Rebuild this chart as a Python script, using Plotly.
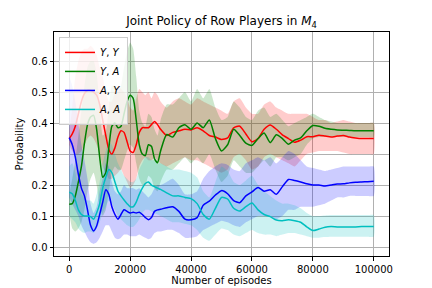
import plotly.graph_objects as go

episodes = [0, 1000, 2000, 3000, 4000, 5000, 6000, 7000, 8000, 9000,
            10000, 11000, 12000, 13000, 14000, 15000, 16000, 17000, 18000, 19000,
            20000, 21000, 22000, 23000, 24000, 25000, 26000, 27000, 28000, 29000,
            30000, 32000, 34000, 36000, 38000, 40000, 42000, 44000, 46000, 48000,
            50000, 52000, 54000, 56000, 58000, 60000, 62000, 64000, 66000, 68000,
            70000, 72000, 74000, 76000, 78000, 80000, 82000, 84000, 86000, 88000,
            90000, 92000, 94000, 96000, 98000, 100000]

# Y,Y (red)
yy_mean = [0.35, 0.365, 0.39, 0.43, 0.47, 0.495, 0.505, 0.505, 0.50, 0.49, 0.46, 0.41, 0.36, 0.315, 0.30, 0.32,
           0.355, 0.375, 0.37, 0.34, 0.31, 0.305, 0.33, 0.37, 0.385, 0.385, 0.385, 0.395, 0.405, 0.395, 0.38,
           0.36, 0.37, 0.375, 0.38, 0.378, 0.385, 0.375, 0.36, 0.355, 0.347, 0.352, 0.385, 0.39, 0.365, 0.34,
           0.35, 0.38, 0.394, 0.38, 0.362, 0.35, 0.338, 0.345, 0.356, 0.356, 0.361, 0.358, 0.355, 0.358, 0.36,
           0.355, 0.352, 0.35, 0.35, 0.35]
yy_lo = [0.33, 0.31, 0.30, 0.30, 0.31, 0.33, 0.35, 0.36, 0.35, 0.33, 0.30, 0.26, 0.24, 0.22, 0.22, 0.23, 0.24,
         0.25, 0.23, 0.21, 0.19, 0.20, 0.22, 0.26, 0.28, 0.29, 0.28, 0.28, 0.29, 0.28, 0.27,
         0.26, 0.27, 0.28, 0.29, 0.28, 0.28, 0.27, 0.26, 0.25, 0.24, 0.25, 0.29, 0.30, 0.28, 0.25, 0.26, 0.29,
         0.30, 0.29, 0.28, 0.27, 0.26, 0.28, 0.30, 0.305, 0.31, 0.31, 0.31, 0.31, 0.305, 0.30, 0.30, 0.30,
         0.30, 0.30]
yy_hi = [0.37, 0.45, 0.55, 0.60, 0.63, 0.64, 0.64, 0.65, 0.64, 0.62, 0.58, 0.55, 0.50, 0.47, 0.47, 0.50, 0.52,
         0.51, 0.50, 0.48, 0.45, 0.44, 0.48, 0.51, 0.50, 0.49, 0.50, 0.48, 0.50, 0.49, 0.47,
         0.45, 0.47, 0.48, 0.47, 0.46, 0.48, 0.47, 0.46, 0.45, 0.44, 0.43, 0.47, 0.48, 0.45, 0.43, 0.43, 0.46,
         0.47, 0.45, 0.44, 0.43, 0.43, 0.43, 0.43, 0.42, 0.41, 0.41, 0.40, 0.405, 0.41, 0.405, 0.40, 0.40,
         0.40, 0.40]

# Y,A (green)
ya_mean = [0.138, 0.14, 0.165, 0.21, 0.26, 0.335, 0.395, 0.42, 0.425, 0.38, 0.29, 0.225, 0.24, 0.32, 0.39, 0.40,
           0.385, 0.39, 0.43, 0.47, 0.49, 0.48, 0.41, 0.33, 0.30, 0.295, 0.33, 0.325, 0.285, 0.272, 0.31,
           0.363, 0.355, 0.385, 0.395, 0.38, 0.40, 0.385, 0.41, 0.35, 0.31, 0.33, 0.38, 0.36, 0.335, 0.328,
           0.35, 0.368, 0.337, 0.362, 0.35, 0.332, 0.345, 0.352, 0.375, 0.392, 0.39, 0.383, 0.38, 0.378, 0.377,
           0.376, 0.375, 0.375, 0.375, 0.375]
ya_lo = [0.11, 0.06, 0.05, 0.06, 0.08, 0.12, 0.18, 0.22, 0.24, 0.20, 0.13, 0.10, 0.12, 0.18, 0.24, 0.26, 0.25,
         0.25, 0.28, 0.31, 0.33, 0.32, 0.27, 0.22, 0.20, 0.20, 0.23, 0.22, 0.19, 0.18, 0.21,
         0.25, 0.25, 0.27, 0.29, 0.27, 0.29, 0.27, 0.30, 0.25, 0.21, 0.23, 0.28, 0.26, 0.24, 0.24, 0.26, 0.28,
         0.26, 0.29, 0.29, 0.28, 0.29, 0.30, 0.33, 0.35, 0.355, 0.355, 0.355, 0.355, 0.355, 0.355, 0.355,
         0.355, 0.355, 0.355]
ya_hi = [0.17, 0.22, 0.28, 0.36, 0.44, 0.52, 0.58, 0.60, 0.60, 0.56, 0.46, 0.36, 0.37, 0.45, 0.52, 0.52, 0.50,
         0.52, 0.58, 0.63, 0.66, 0.64, 0.55, 0.44, 0.40, 0.39, 0.43, 0.42, 0.38, 0.36, 0.41,
         0.46, 0.46, 0.48, 0.50, 0.47, 0.51, 0.48, 0.51, 0.45, 0.41, 0.42, 0.47, 0.45, 0.42, 0.41, 0.44, 0.45,
         0.42, 0.43, 0.41, 0.39, 0.40, 0.41, 0.42, 0.43, 0.42, 0.41, 0.405, 0.40, 0.40, 0.40, 0.40, 0.40,
         0.40, 0.40]

# A,Y (blue)
ay_mean = [0.353, 0.33, 0.29, 0.235, 0.19, 0.165, 0.12, 0.07, 0.052, 0.068, 0.105, 0.145, 0.185, 0.17, 0.13, 0.105,
           0.09, 0.105, 0.12, 0.115, 0.11, 0.112, 0.11, 0.112, 0.105, 0.095, 0.088, 0.095, 0.115, 0.12, 0.122,
           0.127, 0.13, 0.115, 0.09, 0.088, 0.095, 0.135, 0.148, 0.168, 0.182, 0.172, 0.15, 0.143, 0.165, 0.178,
           0.192, 0.18, 0.185, 0.17, 0.195, 0.218, 0.215, 0.21, 0.204, 0.2, 0.2, 0.197, 0.2, 0.203, 0.204,
           0.207, 0.209, 0.21, 0.211, 0.212]
ay_lo = [0.16, 0.14, 0.12, 0.10, 0.07, 0.05, 0.03, 0.015, 0.01, 0.015, 0.03, 0.05, 0.07, 0.07, 0.05, 0.03, 0.025,
         0.03, 0.04, 0.04, 0.035, 0.035, 0.035, 0.04, 0.035, 0.03, 0.025, 0.03, 0.045, 0.05, 0.05,
         0.055, 0.055, 0.045, 0.03, 0.03, 0.035, 0.055, 0.065, 0.075, 0.085, 0.08, 0.07, 0.065, 0.08, 0.09,
         0.10, 0.10, 0.10, 0.09, 0.10, 0.12, 0.12, 0.13, 0.13, 0.13, 0.135, 0.14, 0.15, 0.16, 0.16, 0.165,
         0.165, 0.165, 0.165, 0.165]
ay_hi = [0.55, 0.52, 0.47, 0.40, 0.33, 0.28, 0.22, 0.14, 0.11, 0.13, 0.18, 0.22, 0.27, 0.26, 0.21, 0.18, 0.17,
         0.18, 0.20, 0.19, 0.19, 0.19, 0.185, 0.19, 0.18, 0.17, 0.16, 0.17, 0.19, 0.20, 0.20,
         0.21, 0.22, 0.20, 0.17, 0.17, 0.18, 0.22, 0.245, 0.26, 0.27, 0.265, 0.25, 0.245, 0.27, 0.28, 0.29,
         0.28, 0.29, 0.27, 0.29, 0.31, 0.30, 0.28, 0.26, 0.255, 0.25, 0.245, 0.25, 0.255, 0.26, 0.26, 0.26,
         0.26, 0.26, 0.26]

# A,A (cyan)
aa_mean = [0.177, 0.172, 0.15, 0.12, 0.105, 0.10, 0.10, 0.098, 0.09, 0.11, 0.14, 0.19, 0.225, 0.25, 0.24, 0.21,
           0.18, 0.165, 0.152, 0.14, 0.13, 0.13, 0.145, 0.17, 0.19, 0.205, 0.21, 0.2, 0.195, 0.19, 0.186,
           0.175, 0.165, 0.165, 0.16, 0.156, 0.14, 0.105, 0.09, 0.125, 0.16, 0.155, 0.125, 0.116, 0.13, 0.142,
           0.12, 0.105, 0.098, 0.087, 0.085, 0.088, 0.085, 0.08, 0.065, 0.053, 0.058, 0.064, 0.066, 0.065,
           0.065, 0.065, 0.065, 0.066, 0.066, 0.066]
aa_lo = [0.10, 0.09, 0.08, 0.06, 0.05, 0.045, 0.05, 0.05, 0.045, 0.06, 0.08, 0.11, 0.13, 0.15, 0.14, 0.12, 0.10,
         0.09, 0.08, 0.07, 0.065, 0.065, 0.075, 0.09, 0.11, 0.12, 0.12, 0.115, 0.11, 0.105, 0.10,
         0.09, 0.08, 0.08, 0.075, 0.07, 0.055, 0.03, 0.02, 0.04, 0.06, 0.055, 0.04, 0.035, 0.045, 0.055,
         0.045, 0.04, 0.04, 0.035, 0.04, 0.045, 0.045, 0.04, 0.035, 0.03, 0.03, 0.032, 0.033, 0.033, 0.033,
         0.033, 0.033, 0.033, 0.033, 0.033]
aa_hi = [0.26, 0.27, 0.24, 0.20, 0.17, 0.16, 0.15, 0.15, 0.14, 0.17, 0.21, 0.27, 0.31, 0.34, 0.33, 0.30, 0.27,
         0.25, 0.23, 0.22, 0.21, 0.21, 0.22, 0.25, 0.27, 0.29, 0.29, 0.28, 0.28, 0.27, 0.27,
         0.26, 0.25, 0.25, 0.245, 0.24, 0.225, 0.18, 0.16, 0.21, 0.26, 0.245, 0.21, 0.20, 0.215, 0.23,
         0.20, 0.18, 0.165, 0.15, 0.14, 0.14, 0.135, 0.125, 0.11, 0.10, 0.10, 0.102, 0.103, 0.103, 0.103,
         0.103, 0.103, 0.103, 0.103, 0.103]

labels = ["<i>Y</i>, <i>Y</i>", "<i>Y</i>, <i>A</i>", "<i>A</i>, <i>Y</i>", "<i>A</i>, <i>A</i>"]
x_ticks = [0, 20000, 40000, 60000, 80000, 100000]
y_ticks = [0.0, 0.1, 0.2, 0.3, 0.4, 0.5, 0.6]

series = [
    (labels[0], yy_mean, yy_lo, yy_hi, "#ff0000", "rgba(255,0,0,0.2)"),
    (labels[1], ya_mean, ya_lo, ya_hi, "#008000", "rgba(0,128,0,0.2)"),
    (labels[2], ay_mean, ay_lo, ay_hi, "#0000ff", "rgba(0,0,255,0.2)"),
    (labels[3], aa_mean, aa_lo, aa_hi, "#00bfbf", "rgba(0,191,191,0.2)"),
]

fig = go.Figure()
for name, m, lo, hi, col, fcol in series:
    fig.add_trace(go.Scatter(
        x=episodes + episodes[::-1], y=hi + lo[::-1], fill="toself", fillcolor=fcol,
        mode="lines", line=dict(width=0, color=fcol, shape="spline", smoothing=0.5),
        showlegend=False, hoverinfo="skip"))
for name, m, lo, hi, col, fcol in series:
    fig.add_trace(go.Scatter(
        x=episodes, y=m, mode="lines", name=name,
        line=dict(color=col, width=1.5, shape="spline", smoothing=0.6)))

axis_common = dict(showline=True, linecolor="black", linewidth=1, mirror=True,
                   ticks="outside", ticklen=3.5, tickwidth=0.8, tickcolor="black",
                   showgrid=True, gridcolor="#b0b0b0", gridwidth=0.8, zeroline=False,
                   tickfont=dict(family="DejaVu Sans", size=10, color="black"))

# The page body has an 8px margin, so the figure is sized to fit the window after that offset.
fig.update_layout(
    width=424, height=280,
    margin=dict(l=46, r=43, t=24, b=32, autoexpand=False),
    paper_bgcolor="white", plot_bgcolor="white",
    font=dict(family="DejaVu Sans", size=10, color="black"),
    title=dict(text="Joint Policy of Row Players in <i>M</i><sub>4</sub>",
               x=0.5, xref="paper", y=1 - 13 / 280, yref="container", yanchor="middle",
               font=dict(family="DejaVu Sans", size=12, color="black")),
    xaxis=dict(range=[-5000, 105000], tickvals=x_ticks, ticktext=[str(v) for v in x_ticks],
               title=dict(text="Number of episodes", font=dict(size=10), standoff=2),
               **axis_common),
    yaxis=dict(range=[-0.029, 0.694], tickvals=y_ticks, ticktext=["%.1f" % v for v in y_ticks],
               title=dict(text="Probability", font=dict(size=10), standoff=6),
               **axis_common),
    legend=dict(x=0.015, y=0.978, xanchor="left", yanchor="top",
                bgcolor="rgba(255,255,255,0.8)", bordercolor="#cccccc", borderwidth=1,
                font=dict(family="DejaVu Sans", size=10, color="black"),
                itemwidth=30, tracegroupgap=0),
    showlegend=True,
)

fig.write_html("out.html")
